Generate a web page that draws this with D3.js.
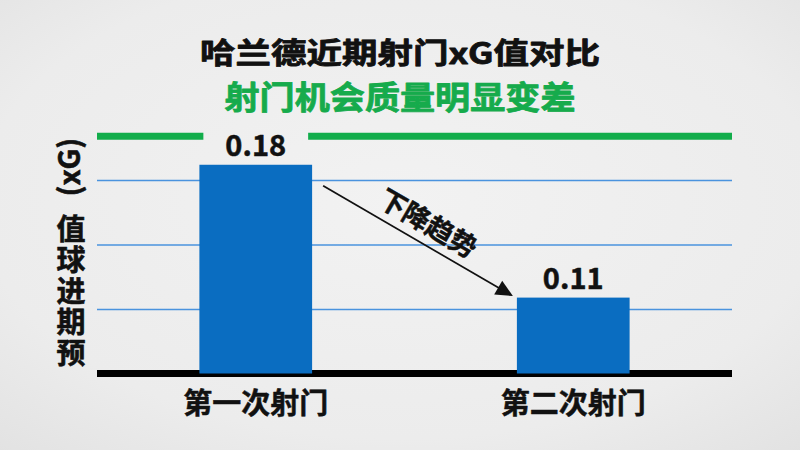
<!DOCTYPE html>
<html><head><meta charset="utf-8">
<script src="https://cdn.jsdelivr.net/npm/d3@7"></script>
<style>html,body{margin:0;padding:0;background:#ebebeb;} svg{display:block;}</style>
</head><body><svg id="chart" width="800" height="450"></svg>
<script>
// ---- data ----
const titleText = "哈兰德近期射门xG值对比";
const subtitleText = "射门机会质量明显变差";
const categories = ["第一次射门", "第二次射门"];
const xgValues = [0.18, 0.11];
const valueLabels = ["0.18", "0.11"];
const gridValues = [0.104, 0.138, 0.172];
const yDomain = [0.07, 0.195];
const yAxisLabel = "预期进球值(xG)";
const trendLabel = "下降趋势";

// ---- setup ----
const FONT = "'Noto Sans CJK SC','Noto Sans',sans-serif";
const W = 800, H = 450;
const pLeft = 97, pRight = 732, pTop = 136.3, pBottom = 373.5;
const svg = d3.select("#chart");

const defs = svg.append("defs");
const rg = defs.append("radialGradient").attr("id","bg").attr("cx","50%").attr("cy","45%").attr("r","75%");
rg.append("stop").attr("offset","0%").attr("stop-color","#f2f2f2");
rg.append("stop").attr("offset","70%").attr("stop-color","#ececec");
rg.append("stop").attr("offset","100%").attr("stop-color","#e2e2e2");
svg.append("rect").attr("width",W).attr("height",H).attr("fill","url(#bg)");

const x = d3.scaleBand().domain(categories).range([pLeft, pRight]).paddingInner(0.645).paddingOuter(0.3225);
const y = d3.scaleLinear().domain(yDomain).range([pBottom, pTop]);
const data = categories.map((c,i)=>({cat:c, v:xgValues[i], label:valueLabels[i]}));

function heavy(sel, color, sw){
  return sel.attr("font-family",FONT).attr("font-weight",700).attr("fill",color)
    .attr("stroke",color).attr("stroke-width",sw).attr("stroke-linejoin","round");
}

// title + subtitle
heavy(svg.append("text").attr("x",400).attr("y",50.5).attr("text-anchor","middle").attr("dominant-baseline","central")
  .attr("font-size",29), "#111", 0.8)
  .attr("textLength",400).attr("lengthAdjust","spacingAndGlyphs").text(titleText);
heavy(svg.append("text").attr("x",400).attr("y",95).attr("text-anchor","middle").attr("dominant-baseline","central")
  .attr("font-size",32), "#16ab4c", 0.8)
  .attr("textLength",351).attr("lengthAdjust","spacingAndGlyphs").text(subtitleText);

// gridlines via axis
const grid = svg.append("g").attr("transform",`translate(${pLeft},0)`)
  .call(d3.axisLeft(y).tickValues(gridValues).tickSize(-(pRight-pLeft)).tickFormat(""));
grid.select(".domain").remove();
grid.selectAll(".tick line").attr("stroke","#4a93de").attr("stroke-width",1.6);

// baseline
svg.append("line").attr("x1",pLeft).attr("x2",pRight).attr("y1",y(yDomain[0])).attr("y2",y(yDomain[0]))
  .attr("stroke","#000").attr("stroke-width",7);

// bars
svg.selectAll("rect.bar").data(data).join("rect").attr("class","bar")
  .attr("x",d=>x(d.cat)).attr("width",x.bandwidth())
  .attr("y",d=>y(d.v)).attr("height",d=>y(yDomain[0])-y(d.v))
  .attr("fill","#0a6dc1");

// value labels
const vl = heavy(svg.selectAll("text.val").data(data).join("text").attr("class","val")
  .attr("x",d=>x(d.cat)+x.bandwidth()/2).attr("y",d=>y(d.v)-9)
  .attr("text-anchor","middle").attr("font-size",29), "#111", 0.5).text(d=>d.label);

// green top line with gap around tallest label
const maxIdx = d3.maxIndex(xgValues);
const bb = vl.nodes()[maxIdx].getBBox();
const gy = y(yDomain[1]);
[[pLeft, bb.x-22],[bb.x+bb.width+22, pRight]].forEach(([a,b])=>{
  svg.append("line").attr("x1",a).attr("x2",b).attr("y1",gy).attr("y2",gy)
    .attr("stroke","#12ad4b").attr("stroke-width",7);
});

// category labels
heavy(svg.selectAll("text.cat").data(data).join("text").attr("class","cat")
  .attr("x",d=>x(d.cat)+x.bandwidth()/2).attr("y",401)
  .attr("text-anchor","middle").attr("dominant-baseline","central")
  .attr("font-size",29), "#111", 0.5)
  .text(d=>d.cat);

// y axis label: one rotated text, CJK glyphs turned upright via per-glyph rotate
const FS = 29, LS = 2;
const cjk = Array.from(yAxisLabel).filter(c=>/[\u4e00-\u9fff]/.test(c));
const rest = Array.from(yAxisLabel).filter(c=>!/[\u4e00-\u9fff]/.test(c)).join("");
const ylt = heavy(svg.append("text").attr("transform",`translate(70,${349+FS/2}) rotate(-90)`)
  .attr("x",0).attr("y",0).attr("text-anchor","start").attr("dominant-baseline","central")
  .attr("font-size",FS), "#111", 0.6);
ylt.append("tspan")
  .attr("dx",cjk.map((c,i)=>i===0?-0.5:LS).join(" "))
  .attr("dy",cjk.map((c,i)=>i===0?-26.5:0).join(" "))
  .attr("rotate","90").text(cjk.join(""));
ylt.append("tspan").attr("dx",14.5).attr("dy",23.5).attr("rotate","0").text(rest);

// trend arrow
const x0 = x(categories[0])+x.bandwidth()+11, y0 = y(xgValues[0])+21;
const x1 = x(categories[1])-4, y1 = y(xgValues[1])-1.5;
const dx = x1-x0, dy = y1-y0, len = Math.hypot(dx,dy), ux = dx/len, uy = dy/len;
const hl = 17, hw = 8;
svg.append("line").attr("x1",x0).attr("y1",y0).attr("x2",x1-ux*hl*0.8).attr("y2",y1-uy*hl*0.8)
  .attr("stroke","#111").attr("stroke-width",1.7);
const bx = x1-ux*hl, by = y1-uy*hl;
svg.append("path").attr("d",`M${x1},${y1}L${bx+uy*hw},${by-ux*hw}L${bx-uy*hw},${by+ux*hw}Z`).attr("fill","#111");
const ang = Math.atan2(dy,dx)*180/Math.PI;
const mx = (x0+x1)/2 + uy*22, my = (y0+y1)/2 - ux*22;
heavy(svg.append("text").attr("transform",`translate(${mx},${my}) rotate(${ang})`)
  .attr("text-anchor","middle").attr("dominant-baseline","central")
  .attr("font-size",27), "#111", 0.5)
  .text(trendLabel);
</script></body></html>
